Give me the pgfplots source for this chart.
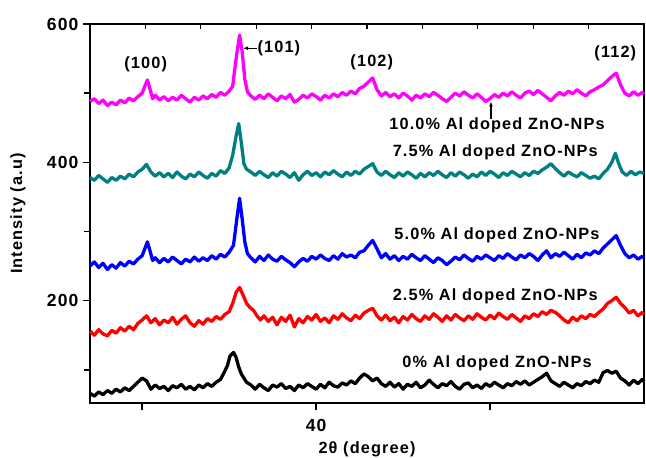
\documentclass[border=0pt]{standalone}
\usepackage{pgfplots}
\pgfplotsset{compat=1.18}
\usepackage{fontspec}
\setmainfont{Liberation Sans}[LetterSpace=7]
\usetikzlibrary{arrows.meta}
\definecolor{cmag}{RGB}{255,0,255}
\definecolor{cteal}{RGB}{0,128,128}
\definecolor{cblue}{RGB}{0,0,255}
\definecolor{cred}{RGB}{255,0,0}
\newcommand{\lf}{\fontsize{16.3bp}{19bp}\selectfont\bfseries}
\newcommand{\tf}{\fontsize{17.5bp}{20bp}\selectfont\bfseries}
\begin{document}
\begin{tikzpicture}
\useasboundingbox (-90bp,-55bp) rectangle (556bp,403bp);
\begin{axis}[
  scale only axis,
  width=554bp, height=379bp,
  xmin=27, xmax=58.85, ymin=52, ymax=600,
  xtick={30,40,50}, xticklabels={,40,},
  ytick={200,400,600}, minor ytick={100,300,500},
  xtick pos=lower, ytick pos=left,
  tick align=outside,
  major tick length=7bp, minor tick length=6bp,
  every tick/.style={black, line width=1.6bp},
  axis line style={line width=1.6bp},
  /pgf/number format/assume math mode=true,
  tick label style={font=\tf},
  yticklabel style={xshift=-1bp},
  xticklabel style={yshift=-6bp},
  xlabel={2θ (degree)},
  ylabel={Intensity (a.u)},
  label style={font=\lf},
  xlabel style={at={(axis description cs:0.5,-0.122)}, anchor=center},
  ylabel style={at={(axis description cs:-0.130,0.5)}, anchor=center},
  clip=false,
  every axis plot/.append style={line width=3.3bp, line join=round, no marks},
]
% 0% (black)
\addplot[black] coordinates {
(27.00,66)(27.25,62)(27.50,68)(27.75,64)(28.00,70)(28.25,66)(28.50,72)(28.75,68)
(29.00,74)(29.25,70)(29.50,76)(29.75,82)(30.00,88)(30.25,84)(30.50,72)(30.75,78)
(31.00,73)(31.25,76)(31.50,70)(31.75,77)(32.00,74)(32.25,79)(32.50,72)(32.75,76)
(33.00,71)(33.25,78)(33.50,74)(33.75,80)(34.00,76)(34.25,82)(34.50,86)(34.75,98)
(34.90,106)(35.05,120)(35.25,125)(35.40,118)(35.55,104)(35.70,94)(35.85,88)(36.00,82)
(36.25,78)(36.50,72)(36.75,79)(37.00,74)(37.25,70)(37.50,78)(37.75,75)(38.00,80)
(38.25,73)(38.50,76)(38.75,70)(39.00,78)(39.25,74)(39.50,80)(39.75,76)(40.00,72)
(40.25,79)(40.50,74)(40.75,82)(41.00,77)(41.25,75)(41.50,81)(41.75,78)(42.00,84)
(42.25,80)(42.50,88)(42.75,94)(43.00,90)(43.25,84)(43.50,88)(43.75,80)(44.00,76)
(44.25,82)(44.50,75)(44.75,80)(45.00,72)(45.25,79)(45.50,76)(45.75,82)(46.00,74)
(46.25,78)(46.50,85)(46.75,79)(47.00,74)(47.25,80)(47.50,77)(47.75,83)(48.00,76)
(48.25,72)(48.50,79)(48.75,81)(49.00,74)(49.25,78)(49.50,73)(49.75,80)(50.00,76)
(50.25,82)(50.50,78)(50.75,74)(51.00,80)(51.25,77)(51.50,83)(51.75,79)(52.00,84)
(52.25,78)(52.50,82)(52.75,86)(53.00,90)(53.25,95)(53.50,84)(53.75,80)(54.00,76)
(54.25,82)(54.50,78)(54.75,74)(55.00,80)(55.25,77)(55.50,83)(55.75,80)(56.00,85)
(56.25,82)(56.50,96)(56.75,99)(57.00,95)(57.25,98)(57.50,88)(57.75,84)(58.00,78)
(58.25,85)(58.50,80)(58.75,86)(58.85,83)
};
% 2.5% (red)
\addplot[cred] coordinates {
(27.00,156)(27.25,150)(27.50,158)(27.75,152)(28.00,149)(28.25,157)(28.50,153)(28.75,161)
(29.00,156)(29.25,163)(29.50,158)(29.75,167)(30.00,172)(30.25,178)(30.50,168)(30.75,174)
(31.00,165)(31.25,172)(31.50,168)(31.75,176)(32.00,166)(32.25,173)(32.50,178)(32.75,168)
(33.00,163)(33.25,171)(33.50,166)(33.75,174)(34.00,170)(34.25,177)(34.50,173)(34.75,180)
(35.00,184)(35.20,196)(35.40,212)(35.60,219)(35.80,208)(36.00,196)(36.20,190)(36.40,186)
(36.60,178)(36.80,172)(37.00,178)(37.25,170)(37.50,176)(37.75,165)(38.00,176)(38.25,170)
(38.50,179)(38.75,162)(39.00,174)(39.25,168)(39.50,177)(39.75,172)(40.00,180)(40.25,170)
(40.50,175)(40.75,168)(41.00,178)(41.25,173)(41.50,181)(41.75,175)(42.00,171)(42.25,179)
(42.50,174)(42.75,182)(43.00,186)(43.25,189)(43.50,178)(43.75,172)(44.00,179)(44.25,171)
(44.50,176)(44.75,168)(45.00,177)(45.25,172)(45.50,180)(45.75,174)(46.00,170)(46.25,178)
(46.50,173)(46.75,181)(47.00,176)(47.25,170)(47.50,178)(47.75,172)(48.00,180)(48.25,175)
(48.50,171)(48.75,178)(49.00,173)(49.25,181)(49.50,176)(49.75,172)(50.00,179)(50.25,174)
(50.50,182)(50.75,177)(51.00,173)(51.25,180)(51.50,175)(51.75,170)(52.00,178)(52.25,174)
(52.50,181)(52.75,177)(53.00,184)(53.25,180)(53.50,186)(53.75,183)(54.00,178)(54.25,172)
(54.50,168)(54.75,176)(55.00,171)(55.25,178)(55.50,174)(55.75,180)(56.00,177)(56.25,183)
(56.50,188)(56.75,196)(57.00,200)(57.25,205)(57.50,196)(57.75,190)(58.00,182)(58.25,186)
(58.50,178)(58.75,183)(58.85,180)
};
% 5.0% (blue)
\addplot[cblue] coordinates {
(27.00,250)(27.25,256)(27.50,248)(27.75,254)(28.00,245)(28.25,252)(28.50,247)(28.75,255)
(29.00,250)(29.25,257)(29.50,253)(29.75,260)(30.00,265)(30.15,275)(30.30,285)(30.45,272)
(30.60,258)(30.75,262)(31.00,255)(31.25,261)(31.50,256)(31.75,263)(32.00,258)(32.25,253)
(32.50,260)(32.75,256)(33.00,263)(33.25,257)(33.50,262)(33.75,258)(34.00,265)(34.25,260)
(34.50,267)(34.75,263)(35.00,270)(35.25,280)(35.45,320)(35.60,348)(35.75,318)(35.90,285)
(36.05,268)(36.25,262)(36.50,256)(36.75,264)(37.00,258)(37.25,266)(37.50,260)(37.75,257)
(38.00,264)(38.25,259)(38.50,255)(38.75,249)(39.00,256)(39.25,261)(39.50,257)(39.75,264)
(40.00,260)(40.25,266)(40.50,261)(40.75,258)(41.00,265)(41.25,260)(41.50,268)(41.75,263)
(42.00,266)(42.25,262)(42.50,270)(42.75,272)(43.00,280)(43.25,287)(43.50,275)(43.75,262)
(44.00,268)(44.25,260)(44.50,265)(44.75,258)(45.00,264)(45.25,260)(45.50,267)(45.75,262)
(46.00,258)(46.25,265)(46.50,260)(46.75,255)(47.00,262)(47.25,258)(47.50,252)(47.75,257)
(48.00,263)(48.25,259)(48.50,266)(48.75,261)(49.00,257)(49.25,264)(49.50,260)(49.75,266)
(50.00,262)(50.25,258)(50.50,265)(50.75,261)(51.00,268)(51.25,263)(51.50,259)(51.75,266)
(52.00,262)(52.25,268)(52.50,264)(52.75,258)(53.00,266)(53.25,272)(53.50,262)(53.75,268)
(54.00,264)(54.25,270)(54.50,265)(54.75,260)(55.00,267)(55.25,262)(55.50,269)(55.75,266)
(56.00,272)(56.25,268)(56.50,276)(56.75,282)(57.00,288)(57.25,294)(57.50,280)(57.75,268)
(58.00,262)(58.25,266)(58.50,260)(58.75,264)(58.85,262)
};
% 7.5% (teal)
\addplot[cteal] coordinates {
(27.00,378)(27.25,374)(27.50,381)(27.75,376)(28.00,371)(28.25,378)(28.50,374)(28.75,380)
(29.00,376)(29.25,383)(29.50,379)(29.75,386)(30.00,390)(30.25,397)(30.50,386)(30.75,380)
(31.00,385)(31.25,379)(31.50,384)(31.75,378)(32.00,386)(32.25,380)(32.50,376)(32.75,383)
(33.00,379)(33.25,386)(33.50,381)(33.75,377)(34.00,384)(34.25,380)(34.50,388)(34.75,384)
(35.00,392)(35.20,410)(35.40,438)(35.55,456)(35.70,428)(35.85,398)(36.00,390)(36.25,386)
(36.50,381)(36.75,387)(37.00,382)(37.25,378)(37.50,385)(37.75,380)(38.00,387)(38.25,383)
(38.50,378)(38.75,385)(39.00,374)(39.25,382)(39.50,387)(39.75,381)(40.00,385)(40.25,379)
(40.50,386)(40.75,382)(41.00,388)(41.25,383)(41.50,379)(41.75,386)(42.00,381)(42.25,387)
(42.50,383)(42.75,390)(43.00,394)(43.25,398)(43.50,386)(43.75,381)(44.00,387)(44.25,382)
(44.50,378)(44.75,385)(45.00,380)(45.25,386)(45.50,382)(45.75,377)(46.00,384)(46.25,379)
(46.50,385)(46.75,381)(47.00,387)(47.25,382)(47.50,378)(47.75,385)(48.00,380)(48.25,386)
(48.50,382)(48.75,377)(49.00,383)(49.25,379)(49.50,386)(49.75,381)(50.00,387)(50.25,383)
(50.50,378)(50.75,385)(51.00,381)(51.25,387)(51.50,383)(51.75,379)(52.00,385)(52.25,381)
(52.50,387)(52.75,384)(53.00,389)(53.25,393)(53.50,398)(53.75,391)(54.00,385)(54.25,380)
(54.50,386)(54.75,382)(55.00,379)(55.25,385)(55.50,381)(55.75,377)(56.00,380)(56.25,376)
(56.50,384)(56.75,390)(57.00,400)(57.20,413)(57.40,398)(57.60,386)(57.85,381)(58.10,387)
(58.35,382)(58.60,386)(58.85,384)
};
% 10.0% (magenta)
\addplot[cmag] coordinates {
(27.00,488)(27.25,492)(27.50,485)(27.75,490)(28.00,482)(28.25,487)(28.50,483)(28.75,490)
(29.00,486)(29.25,493)(29.50,489)(29.75,495)(30.00,500)(30.15,510)(30.30,519)(30.45,506)
(30.60,492)(30.75,497)(31.00,490)(31.25,495)(31.50,489)(31.75,494)(32.00,490)(32.25,497)
(32.50,492)(32.75,487)(33.00,494)(33.25,490)(33.50,496)(33.75,492)(34.00,498)(34.25,494)
(34.50,501)(34.75,497)(35.00,503)(35.20,510)(35.40,550)(35.60,584)(35.75,560)(35.90,520)
(36.05,502)(36.25,496)(36.50,491)(36.75,497)(37.00,492)(37.25,499)(37.50,494)(37.75,489)
(38.00,496)(38.25,492)(38.50,498)(38.75,487)(39.00,491)(39.25,497)(39.50,493)(39.75,499)
(40.00,495)(40.25,490)(40.50,497)(40.75,493)(41.00,499)(41.25,495)(41.50,501)(41.75,497)
(42.00,503)(42.25,499)(42.50,507)(42.75,510)(43.00,516)(43.25,522)(43.50,505)(43.75,496)
(44.00,501)(44.25,495)(44.50,499)(44.75,493)(45.00,500)(45.25,496)(45.50,490)(45.75,497)
(46.00,493)(46.25,499)(46.50,495)(46.75,501)(47.00,497)(47.25,492)(47.50,488)(47.75,494)
(48.00,500)(48.25,496)(48.50,502)(48.75,497)(49.00,493)(49.25,499)(49.50,494)(49.75,488)
(50.00,492)(50.25,498)(50.50,494)(50.75,500)(51.00,496)(51.25,502)(51.50,497)(51.75,493)
(52.00,500)(52.25,503)(52.50,498)(52.75,504)(53.00,499)(53.25,494)(53.50,489)(53.75,496)
(54.00,501)(54.25,497)(54.50,503)(54.75,499)(55.00,505)(55.25,500)(55.50,496)(55.75,502)
(56.00,505)(56.25,509)(56.50,512)(56.75,518)(57.00,524)(57.25,529)(57.50,512)(57.75,500)
(58.00,496)(58.25,502)(58.50,497)(58.75,501)(58.85,499)
};
% annotations
\node[font=\lf] at (axis cs:30.2,542) {(100)};
\node[font=\lf, anchor=west, inner sep=0pt] at (axis cs:36.62,565) {(101)};
\draw[line width=1.2bp, -{Latex[length=5bp,width=4bp]}] (axis cs:36.6,565) -- (axis cs:35.8,565);
\node[font=\lf] at (axis cs:43.2,545) {(102)};
\node[font=\lf] at (axis cs:57.2,558) {(112)};
\draw[line width=1.2bp, -{Latex[length=5bp,width=4bp]}] (axis cs:50.05,463) -- (axis cs:50.05,488);
\node[font=\lf] at (axis cs:50.4,454) {10.0\% Al doped ZnO-NPs};
\node[font=\lf] at (axis cs:50.3,415) {7.5\% Al doped ZnO-NPs};
\node[font=\lf] at (axis cs:50.4,294) {5.0\% Al doped ZnO-NPs};
\node[font=\lf] at (axis cs:50.3,206) {2.5\% Al doped ZnO-NPs};
\node[font=\lf] at (axis cs:50.4,110) {0\% Al doped ZnO-NPs};
\end{axis}
% inward ticks on the top axis line
\foreach \i in {1,...,9} {
  \draw[line width=1.3bp] (\i*55.4bp,379bp) -- (\i*55.4bp,374bp);
}
\end{tikzpicture}
\end{document}
